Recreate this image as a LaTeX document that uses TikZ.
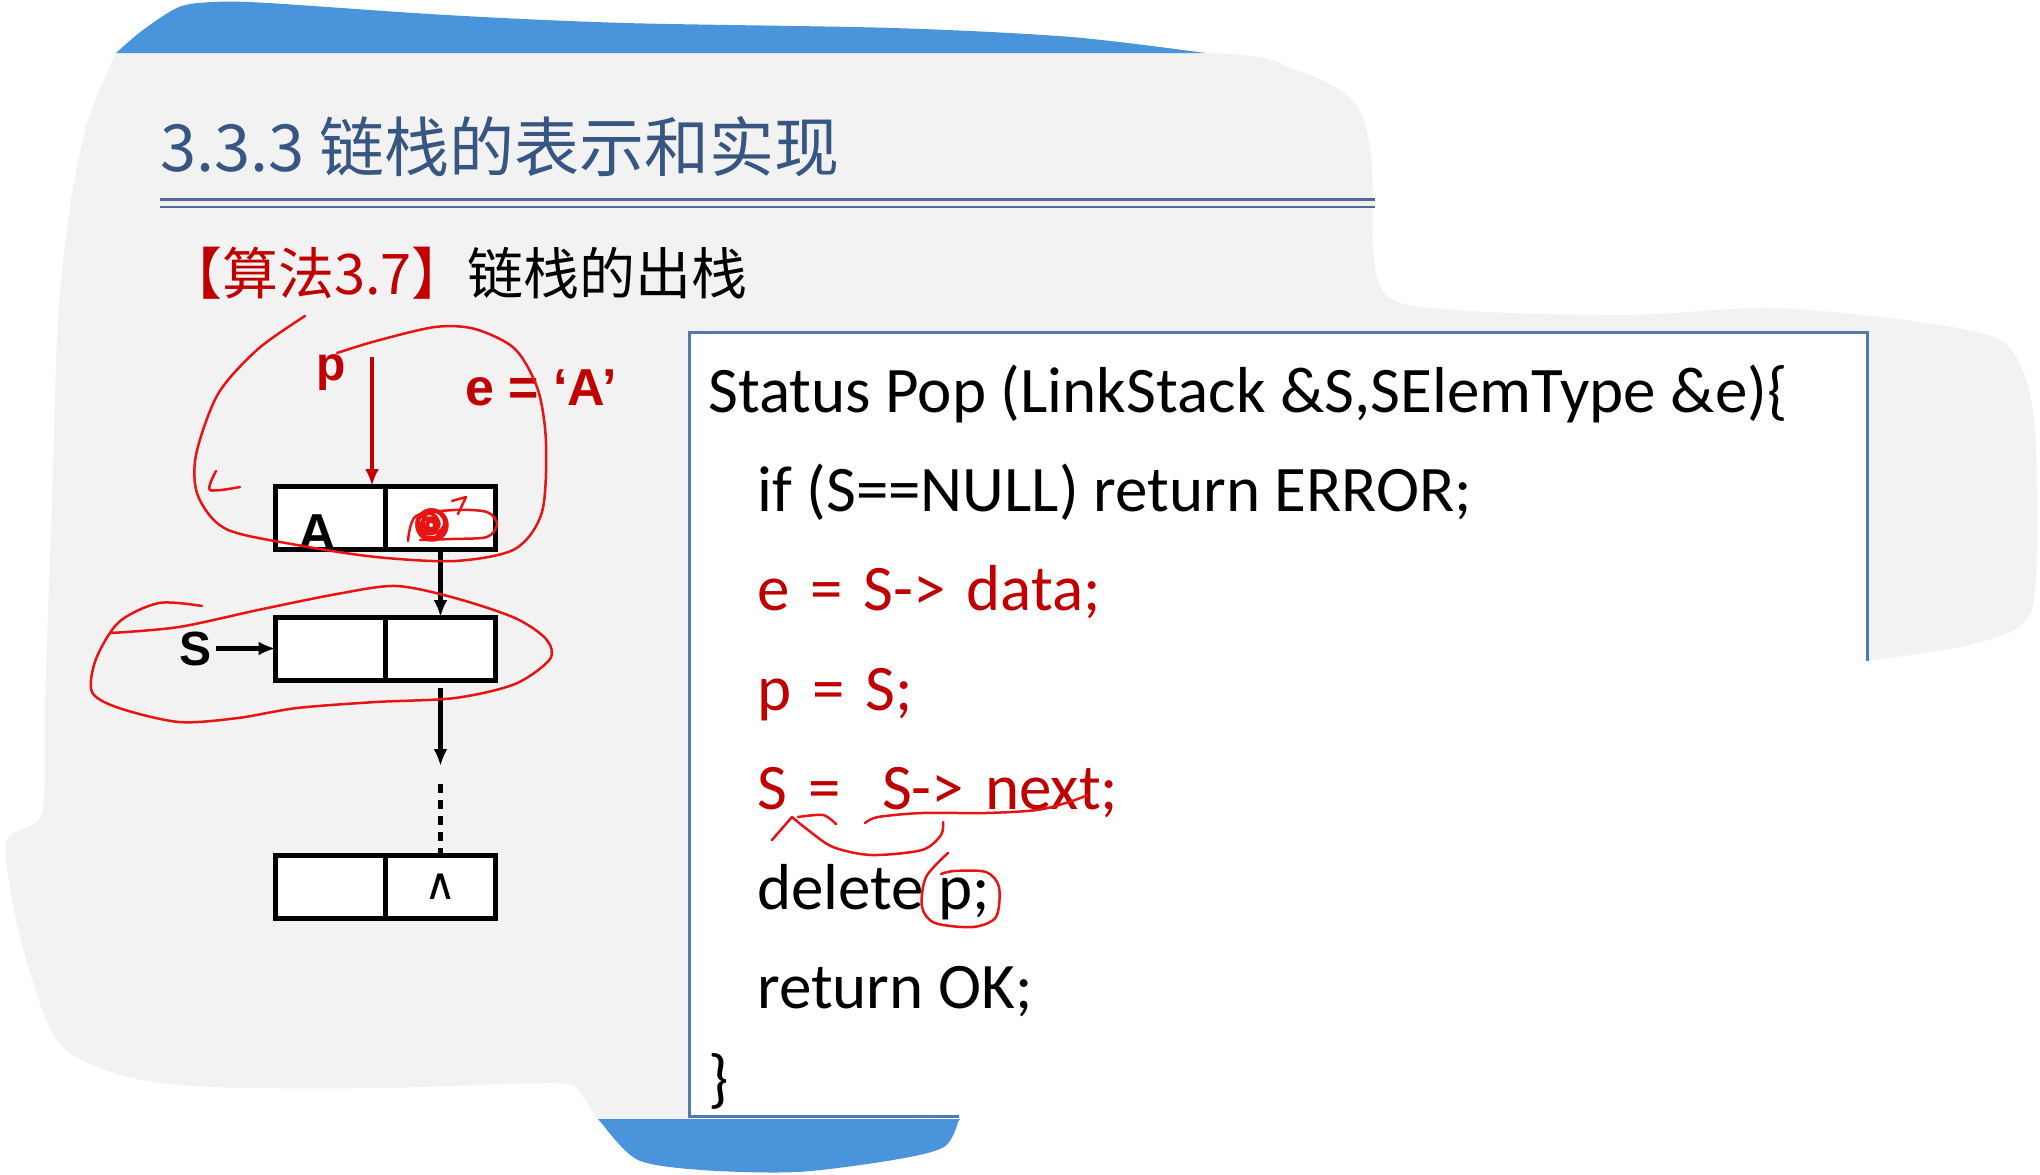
\documentclass[tikz,border=0pt]{standalone}
\usepackage{fontspec}
\setmainfont{Liberation Sans}
\newfontfamily\codefont{Carlito}
\newfontfamily\cjkfont{Noto Sans CJK SC}
\newfontfamily\symfont{DejaVu Sans}
\usetikzlibrary{positioning,arrows.meta}

\definecolor{slide}{RGB}{242,242,242}
\definecolor{band}{RGB}{74,148,220}
\definecolor{bandlight}{RGB}{108,170,228}
\definecolor{titleblue}{RGB}{56,86,130}
\definecolor{rulecol}{RGB}{79,107,150}
\definecolor{boxblue}{RGB}{79,122,180}
\definecolor{codered}{RGB}{192,0,0}
\definecolor{inkred}{RGB}{232,20,20}

\begin{document}
\begin{tikzpicture}[x=1pt,y=-1pt,
    cell/.style={draw,line width=5pt,outer sep=0pt,inner sep=0pt,fill=white,
                 minimum width=110pt,minimum height=63pt,
                 font=\fontsize{52}{52}\selectfont\bfseries},
    codeline/.style={anchor=base west,inner sep=0pt,
                     font=\codefont\fontsize{65}{65}\selectfont},
    redline/.style={codeline,text=codered,
                    execute at begin node={\spaceskip=21pt\relax}},
    lbl/.style={inner sep=0pt,outer sep=4pt,
                font=\fontsize{48}{48}\selectfont\bfseries},
    link/.style={line width=4.5pt,-{Latex[length=17pt,width=14pt]}},
    ink/.style={inkred,line width=2.5pt,line cap=round,line join=round}]
  \useasboundingbox (0,0) rectangle (2040,1175);

  % slide background
  \fill[slide] plot[smooth] coordinates {(116,53) (700,53) (1205,53) (1295,70)
      (1340,90) (1362,115) (1371,156) (1373,201) (1373,250) (1380,286) (1404,304)
      (1489,312) (1630,315) (1772,308) (1913,321) (1998,339) (2026,379) (2036,446)
      (2036,580) (2022,625) (1960,647) (1866,661)}
    -- (960,661) -- (960,1118)
    -- plot[smooth] coordinates {(600,1123) (580,1093) (555,1083) (383,1088)
      (210,1087) (128,1077) (70,1053) (45,1017) (19,933) (6,860) (10,835)
      (42,812) (45,700) (52,500) (58,320) (71,200) (89,117) (116,53)}
    -- cycle;
  \shade[left color=band,middle color=bandlight,right color=band]
    plot[smooth] coordinates {(116,53) (143,30) (179,7) (214,2) (268,3) (446,15)
      (625,23) (893,28) (1071,37) (1205,53)} -- cycle;
  \fill[band] (598,1119) -- (960,1119)
    -- plot[smooth] coordinates {(958,1122) (944,1147) (893,1160) (797,1172)
      (702,1170) (638,1160) (604,1126)} -- cycle;

  % title
  \node[anchor=base west,inner sep=0pt,text=titleblue,
        font=\cjkfont\fontsize{65}{65}\selectfont] (title) at (160,171)
    {3.3.3 链栈的表示和实现};
  \draw[rulecol,line width=3pt] (160,199) -- (1375,199);
  \draw[rulecol,line width=1.5pt] (160,207) -- (1375,207);
  \node[anchor=base west,inner sep=0pt,
        font=\cjkfont\fontsize{56}{56}\selectfont] (algo) at (166,294)
    {\textcolor{codered}{【算法3.7】}链栈的出栈};

  % code
  \fill[white] (689,332) rectangle (1867,1116);
  \draw[boxblue,line width=3pt] (1867,661) -- (1867,332) -- (689,332)
    -- (689,1116) -- (959,1116);
  \node[codeline] (sig) at (708,412) {Status Pop (LinkStack \&S,SElemType \&e)\{};
  \node[codeline] (check) at (757,511) {if (S==NULL) return ERROR;};
  \node[redline] (take) at (757,610) {e = S-> data;};
  \node[redline] (keep) at (757,710) {p = S;};
  \node[redline] (move) at (757,809) {S = \ S-> next;};
  \node[codeline] (free) at (757,909) {delete p;};
  \node[codeline] (ret) at (757,1008) {return OK;};
  \node[codeline] (close) at (708,1100) {\}};

  % linked stack
  \node[cell] (topa) at (330.5,517.5)
    {\raisebox{-33pt}[0pt][0pt]{A}\hspace*{26pt}};
  \node[cell,right=0pt of topa] (topb) {};
  \node[cell,below=68pt of topa] (mida) {};
  \node[cell,right=0pt of mida] (midb) {};
  \node[cell,below=175pt of mida] (lasta) {};
  \node[cell,right=0pt of lasta] (lastb)
    {\symfont\fontsize{44}{44}\selectfont\mdseries ∧};
  \draw[line width=5pt] (topa.south west) -- (topb.south east);
  \node[lbl,left=60pt of mida] (S) {S};
  \node[lbl,text=codered,anchor=base] (p) at (331,380) {p};
  \node[lbl,text=codered,anchor=base west,outer sep=0pt,
        font=\fontsize{52}{52}\selectfont\bfseries] (eval) at (465,405)
    {e = ‘A’};
  \coordinate (ptail) at (372,357);
  \coordinate[below=86pt of midb.south] (gap);
  \draw[link] (topb.south) -- (midb.north);
  \draw[link] ([yshift=-8pt]midb.south) -- (gap);
  \draw[line width=5pt,dash pattern=on 9pt off 7pt]
    ([yshift=-18pt]gap) -- ([yshift=-8pt]lastb.north);
  \draw[link] (S) -- (mida);
  \draw[link,codered] (ptail) -- (ptail |- topa.north);

  % red pen marks
  \draw[ink] plot[smooth] coordinates {(305,316) (258,349) (218,394) (196,455)
    (198,496) (226,529) (297,545) (376,557) (455,561) (515,549) (542,512)
    (546,443) (538,390) (515,349) (475,329) (435,327) (376,341) (337,353)};
  \draw[ink] plot[smooth] coordinates {(216,471) (210,490) (240,487)};
  \foreach \r/\dx/\dy in {14/0/0,11/3/-2,8/-2/2,15/1/1,6/2/0,10/-3/-1,4/0/1}
    \draw[ink,line width=3.5pt] (431+\dx,524+\dy) circle[radius=\r];
  \draw[ink] plot[smooth] coordinates {(408,541) (416,516) (455,510) (487,512)
    (497,524) (487,537) (451,539) (420,540)};
  \draw[ink] plot coordinates {(452,501) (466,497) (458,514)};
  \draw[ink] plot[smooth] coordinates {(202,606) (159,603) (119,622) (96,659)
    (92,692) (119,708) (179,722) (238,718) (297,708) (376,702) (455,698)
    (515,684) (550,659) (546,639) (515,618) (455,598) (396,586) (337,594)
    (258,610) (179,627) (111,633)};
  \draw[ink] plot[smooth] coordinates {(865,823) (878,817) (922,813) (986,813)
    (1037,810) (1069,802) (1088,795)};
  \draw[ink] (772,840) -- (792,817);
  \draw[ink] plot[smooth] coordinates {(792,817) (808,830) (833,847) (871,855)
    (922,850) (941,835) (943,822)};
  \draw[ink] plot[smooth] coordinates {(798,817) (823,815) (836,824)};
  \draw[ink] plot[smooth] coordinates {(948,853) (926,877) (922,907) (935,923)
    (973,927) (996,917) (999,887) (986,872) (954,871) (941,874)};
\end{tikzpicture}
\end{document}
